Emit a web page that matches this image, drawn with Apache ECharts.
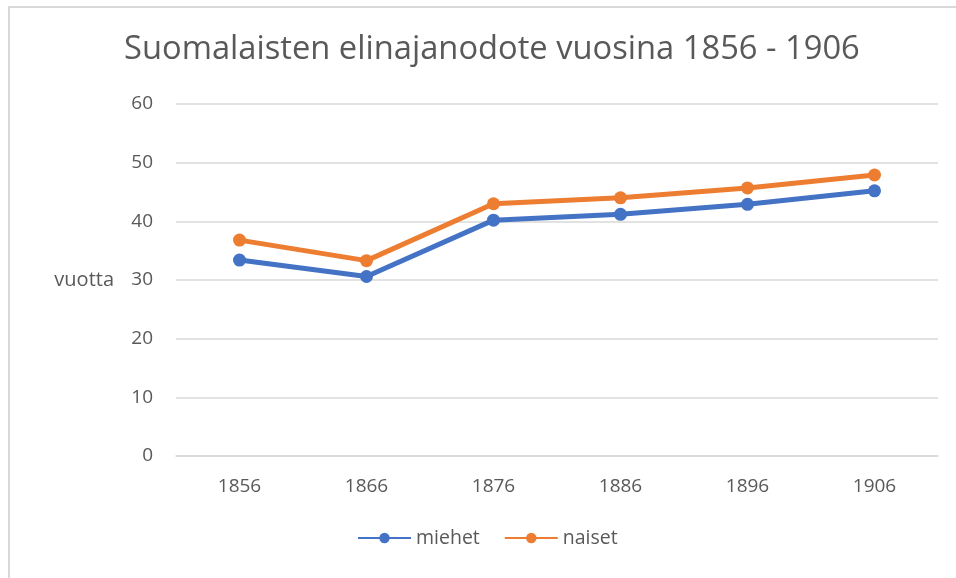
<!DOCTYPE html>
<html>
<head>
<meta charset="utf-8">
<script src="https://cdn.jsdelivr.net/npm/echarts@6/dist/echarts.min.js"></script>
<style>
  html, body { margin: 0; padding: 0; background: #fff; }
  #chart { width: 956px; height: 578px; }
  .frame {
    position: absolute; left: 8px; top: 6px; width: 960px; height: 580px;
    border-left: 2px solid #d9d9d9; border-top: 2px solid #d9d9d9;
    pointer-events: none;
  }
</style>
</head>
<body>
<div id="chart"></div>
<div class="frame"></div>
<script>
// vuodet ja elinajanodote (luettu kuvasta)
const years = ['1856', '1866', '1876', '1886', '1896', '1906'];
const miehet = [33.4, 30.6, 40.2, 41.2, 42.9, 45.2];
const naiset = [36.8, 33.3, 43.0, 44.0, 45.7, 47.9];

const chart = echarts.init(document.getElementById('chart'));
const font = 'Open Sans';
const grey = '#595959';

const option = {
  animation: false,
  title: {
    text: 'Suomalaisten elinajanodote vuosina 1856 - 1906',
    left: 119,
    top: 28,
    textStyle: { fontFamily: font, fontSize: 32.7, fontWeight: 'normal', color: grey }
  },
  legend: {
    bottom: 25,
    left: 352,
    itemWidth: 53,
    itemHeight: 13,
    itemGap: 24,
    textStyle: { fontFamily: font, fontSize: 19.5, color: grey },
    data: ['miehet', 'naiset']
  },
  grid: { left: 176, right: 18, top: 104, bottom: 122 },
  xAxis: {
    type: 'category',
    data: years,
    axisTick: { show: false },
    axisLine: { lineStyle: { color: '#d9d9d9', width: 1.5 } },
    axisLabel: { margin: 21, fontFamily: font, fontSize: 19, color: grey }
  },
  yAxis: {
    type: 'value',
    min: 0,
    max: 60,
    interval: 10,
    name: 'vuotta',
    nameLocation: 'middle',
    nameRotate: 0,
    nameGap: 62,
    nameTextStyle: { fontFamily: font, fontSize: 20, color: grey, align: 'right' },
    axisLine: { show: false },
    axisTick: { show: false },
    axisLabel: { margin: 23, fontFamily: font, fontSize: 19, color: grey },
    splitLine: { lineStyle: { color: '#d9d9d9', width: 1.5 } }
  },
  series: [
    {
      name: 'miehet',
      type: 'line',
      data: miehet,
      symbol: 'circle',
      symbolSize: 13,
      lineStyle: { width: 5, color: '#4472C4' },
      itemStyle: { color: '#4472C4' }
    },
    {
      name: 'naiset',
      type: 'line',
      data: naiset,
      symbol: 'circle',
      symbolSize: 13,
      lineStyle: { width: 5, color: '#ED7D31' },
      itemStyle: { color: '#ED7D31' }
    }
  ]
};
chart.setOption(option);
</script>
</body>
</html>
